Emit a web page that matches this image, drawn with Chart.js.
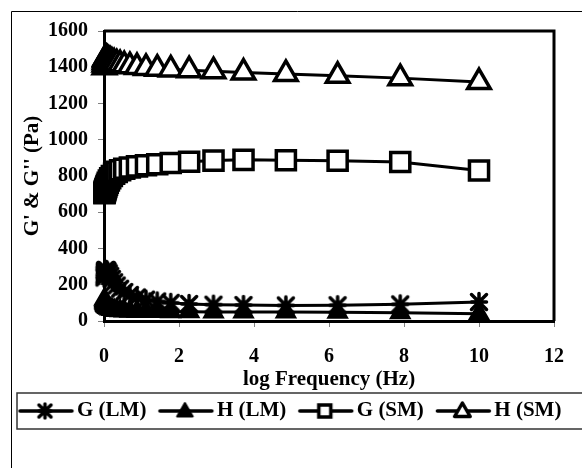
<!DOCTYPE html>
<html>
<head>
<meta charset="utf-8">
<script src="https://cdn.jsdelivr.net/npm/chart.js@4.4.1/dist/chart.umd.min.js"></script>
<style>
  html, body { margin: 0; padding: 0; background: #fff; }
  #c { display: block; }
</style>
</head>
<body>
<canvas id="c" width="582" height="468"></canvas>
<script>
// ---- data ----
const frequency = [0.012, 0.015, 0.019, 0.024, 0.031, 0.039, 0.05, 0.063, 0.08, 0.10,
                   0.13, 0.165, 0.21, 0.27, 0.34, 0.43, 0.54, 0.69, 0.88, 1.12,
                   1.42, 1.78, 2.27, 2.92, 3.72, 4.85, 6.23, 7.9, 10];
const gLM = [240, 252, 262, 270, 276, 280, 282, 281, 278, 272,
             262, 248, 232, 214, 196, 178, 160, 144, 130, 118,
             108, 100, 94, 90, 88, 86, 87, 92, 105];
const hLM = [120, 112, 105, 100, 95, 90, 86, 82, 78, 74,
             70, 66, 63, 60, 58, 56, 55, 54, 53, 52,
             52, 51, 51, 50, 50, 49, 48, 45, 40];
const gSM = [705, 708, 712, 716, 721, 727, 734, 742, 752, 763,
             775, 788, 800, 812, 823, 832, 840, 847, 853, 859,
             865, 872, 879, 885, 889, 887, 884, 877, 830];
const hSM = [1400, 1415, 1428, 1438, 1445, 1449, 1450, 1449, 1447, 1444,
             1440, 1436, 1431, 1426, 1421, 1416, 1411, 1406, 1401, 1396,
             1392, 1388, 1384, 1378, 1371, 1363, 1353, 1340, 1318];
const seriesNames = ['G (LM)', 'H (LM)', 'G (SM)', 'H (SM)'];
const xTicks = [0, 2, 4, 6, 8, 10, 12];
const yTicks = [0, 200, 400, 600, 800, 1000, 1200, 1400, 1600];
const xTitle = 'log Frequency (Hz)';
const yTitle = "G' & G'' (Pa)";

const FONT = '"Liberation Serif", "Times New Roman", serif';
const LEGEND_FONT = 21;
const LEGEND_PAD = 2;
const LEGEND_BOX = 58;

// ---- marker drawing helpers ----
function drawStar(ctx, cx, cy, h, lw) {
  ctx.save();
  ctx.strokeStyle = '#000';
  ctx.lineWidth = lw;
  ctx.lineCap = 'round';
  ctx.beginPath();
  ctx.moveTo(cx - h, cy - h); ctx.lineTo(cx + h, cy + h);
  ctx.moveTo(cx + h, cy - h); ctx.lineTo(cx - h, cy + h);
  ctx.moveTo(cx, cy - h - 1); ctx.lineTo(cx, cy + h + 1);
  ctx.moveTo(cx - h, cy); ctx.lineTo(cx + h, cy);
  ctx.stroke();
  ctx.restore();
}
function makeStarCanvas(size, h, lw) {
  const c = document.createElement('canvas');
  c.width = size; c.height = size;
  drawStar(c.getContext('2d'), size / 2, size / 2, h, lw);
  return c;
}
function drawTri(ctx, cx, cy, r, fill, lw) {
  ctx.beginPath();
  ctx.moveTo(cx, cy - r);
  ctx.lineTo(cx + r * 0.866, cy + r * 0.5);
  ctx.lineTo(cx - r * 0.866, cy + r * 0.5);
  ctx.closePath();
  ctx.fillStyle = fill; ctx.fill();
  ctx.lineWidth = lw; ctx.strokeStyle = '#000'; ctx.lineJoin = 'round'; ctx.stroke();
}
// legend icon: a canvas centred on the legend box centre; the visible symbol
// ends a few pixels before the label text.
function makeLegendIcon(kind) {
  const w = 80, hgt = 24;
  const c = document.createElement('canvas');
  c.width = w; c.height = hgt;
  const ctx = c.getContext('2d');
  const textLocal = w / 2 + LEGEND_BOX / 2 + LEGEND_FONT / 2;   // where the label starts
  const x0 = textLocal - 57, x1 = textLocal - 5, cx = textLocal - 32, cy = hgt / 2;
  ctx.strokeStyle = '#000'; ctx.lineWidth = 3.5; ctx.lineCap = 'round';
  ctx.beginPath(); ctx.moveTo(x0, cy); ctx.lineTo(x1, cy); ctx.stroke();
  if (kind === 'star') {
    drawStar(ctx, cx, cy, 6, 3.5);
  } else if (kind === 'triFill') {
    drawTri(ctx, cx, cy + 1, 9, '#000', 2);
  } else if (kind === 'rect') {
    ctx.fillStyle = '#fff';
    ctx.fillRect(cx - 6, cy - 6, 12, 12);
    ctx.lineWidth = 3.5; ctx.strokeRect(cx - 6, cy - 6, 12, 12);
  } else if (kind === 'triOpen') {
    drawTri(ctx, cx, cy + 1, 9, '#fff', 3.5);
  }
  return c;
}
const legendIcons = [makeLegendIcon('star'), makeLegendIcon('triFill'),
                     makeLegendIcon('rect'), makeLegendIcon('triOpen')];
const starPoint = makeStarCanvas(24, 7.5, 3.5);

function pts(ys) { return frequency.map((f, i) => ({ x: f, y: ys[i] })); }

// ---- plugins for frame, plot box and legend box ----
const framePlugin = {
  id: 'frame',
  beforeDraw(chart) {
    const ctx = chart.ctx;
    ctx.save();
    ctx.fillStyle = '#fff';
    ctx.fillRect(0, 0, chart.width, chart.height);
    ctx.strokeStyle = '#000'; ctx.lineWidth = 1;
    ctx.beginPath();
    ctx.moveTo(11.5, chart.height + 5); ctx.lineTo(11.5, 11.5); ctx.lineTo(chart.width + 5, 11.5);
    ctx.stroke();
    ctx.restore();
  },
  beforeDatasetsDraw(chart) {
    const a = chart.chartArea, ctx = chart.ctx;
    ctx.save();
    ctx.strokeStyle = '#000'; ctx.lineWidth = 3;
    ctx.beginPath();
    ctx.moveTo(a.left, a.top); ctx.lineTo(a.right, a.top); ctx.lineTo(a.right, a.bottom);
    ctx.stroke();
    ctx.restore();
  },
  afterDraw(chart) {
    const lg = chart.legend, ctx = chart.ctx;
    const textCenter = lg.top + LEGEND_PAD + LEGEND_FONT / 2;
    ctx.save();
    ctx.strokeStyle = '#333'; ctx.lineWidth = 1.5;
    ctx.strokeRect(17, textCenter - 18, chart.width, 36);
    ctx.restore();
  }
};

const common = { tension: 0, borderColor: '#000', borderWidth: 3, clip: false, showLine: true };
const tickFont = { family: FONT, size: 20, weight: 'bold' };
const titleFont = { family: FONT, size: 21, weight: 'bold' };

new Chart(document.getElementById('c'), {
  type: 'scatter',
  data: {
    datasets: [
      Object.assign({ label: seriesNames[0], data: pts(gLM), pointStyle: starPoint, pointRadius: 9,
        backgroundColor: '#000', pointBorderWidth: 0 }, common),
      Object.assign({ label: seriesNames[1], data: pts(hLM), pointStyle: 'triangle', pointRadius: 11,
        backgroundColor: '#000', pointBackgroundColor: '#000', pointBorderWidth: 2 }, common),
      Object.assign({ label: seriesNames[2], data: pts(gSM), pointStyle: 'rect', pointRadius: 13.5,
        backgroundColor: '#fff', pointBackgroundColor: '#fff', pointBorderWidth: 3.5 }, common),
      Object.assign({ label: seriesNames[3], data: pts(hSM), pointStyle: 'triangle', pointRadius: 13,
        backgroundColor: '#fff', pointBackgroundColor: '#fff', pointBorderWidth: 3.5 }, common)
    ]
  },
  options: {
    responsive: false,
    animation: false,
    devicePixelRatio: 1,
    layout: { padding: { left: 6.5, right: 12, top: 31, bottom: 36.5 } },
    plugins: {
      tooltip: { enabled: false },
      legend: {
        display: true,
        position: 'bottom',
        align: 'start',
        labels: {
          usePointStyle: true,
          pointStyleWidth: LEGEND_BOX,
          padding: LEGEND_PAD,
          color: '#000',
          font: { family: FONT, size: LEGEND_FONT, weight: 'bold' },
          generateLabels(chart) {
            const items = Chart.defaults.plugins.legend.labels.generateLabels(chart);
            items.forEach((it, i) => { it.pointStyle = legendIcons[i]; it.lineWidth = 0; it.fontColor = '#000'; });
            return items;
          }
        }
      }
    },
    scales: {
      x: {
        type: 'linear',
        min: 0, max: 12,
        afterBuildTicks(scale) { scale.ticks = xTicks.map(v => ({ value: v })); },
        afterFit(scale) { scale.height = 77.5; },
        ticks: { color: '#000', padding: 18, font: tickFont, callback: v => String(v) },
        grid: { display: true, drawOnChartArea: false, drawTicks: true, tickLength: 6, color: '#808080', lineWidth: 1 },
        border: { display: true, color: '#000', width: 3 },
        title: { display: true, text: xTitle, color: '#000', padding: { top: 0, bottom: 6 }, font: titleFont }
      },
      y: {
        type: 'linear',
        min: 0, max: 1600,
        afterBuildTicks(scale) { scale.ticks = yTicks.map(v => ({ value: v })); },
        afterFit(scale) { scale.width = 97.5; },
        ticks: { color: '#000', padding: 10, font: tickFont, callback: v => String(v) },
        grid: { display: true, drawOnChartArea: false, drawTicks: true, tickLength: 6, color: '#808080', lineWidth: 1 },
        border: { display: true, color: '#000', width: 3 },
        title: { display: true, text: yTitle, color: '#000', padding: { top: 13, bottom: 0 }, font: titleFont }
      }
    }
  },
  plugins: [framePlugin]
});
</script>
</body>
</html>
